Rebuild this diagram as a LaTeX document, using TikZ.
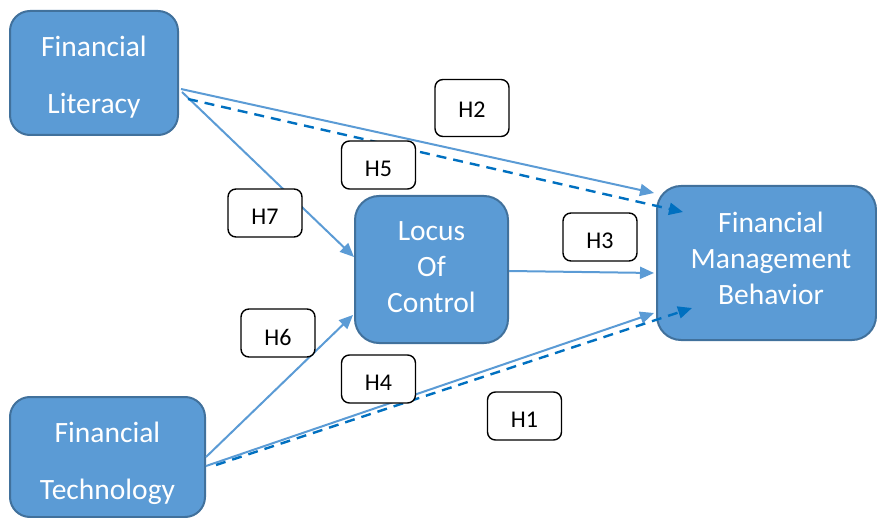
\documentclass[tikz,border=0pt]{standalone}
\usepackage{fontspec}
\setmainfont{Carlito}
\usetikzlibrary{arrows.meta,calc}
\definecolor{boxfill}{HTML}{5B9BD5}
\definecolor{boxline}{HTML}{41719C}
\definecolor{dashblue}{HTML}{0070C0}
% hypothesis text, set a little below the middle of its frame
\newcommand{\hyptext}[2][-4pt]{\raisebox{#1}[\height][\depth]{#2}}
\begin{document}
\begin{tikzpicture}[x=1pt,y=-1pt,
  construct/.style={draw=boxline, line width=2pt, fill=boxfill, rounded corners=20pt, inner sep=0pt},
  caption/.style={text=white, align=center, inner sep=0pt, font=\fontsize{29.5}{36}\selectfont},
  widespaced/.style={font=\fontsize{29.5}{57}\selectfont},
  hyp/.style={draw=black, line width=1.4pt, fill=white, rounded corners=8pt,
    minimum width=74pt, minimum height=48pt, inner sep=0pt,
    font=\fontsize{24}{28}\selectfont},
  link/.style={draw=boxfill, line width=2pt, -{Triangle[length=14pt,width=12pt]}},
  directlink/.style={draw=dashblue, line width=2.4pt, dash pattern=on 10pt off 7pt,
    -{Triangle[length=14pt,width=12pt]}}]
\useasboundingbox (0,0) rectangle (877,518);

% constructs
\node[construct, minimum width=168pt, minimum height=124pt] (fl) at (94,73) {};
\node[construct, minimum width=195pt, minimum height=120pt] (ft) at (107.5,457) {};
\node[construct, minimum width=153pt, minimum height=147pt, rounded corners=24pt] (loc) at (431.5,269.5) {};
\node[construct, minimum width=219pt, minimum height=154pt, rounded corners=24pt] (fmb) at (766.5,263) {};

\node[caption, widespaced] (fltext) at (94,77) {Financial\\Literacy};
\node[caption, widespaced] (fttext) at (107.5,463) {Financial\\Technology};
\node[caption] (loctext) at (431.5,267.5) {Locus\\Of\\Control};
\node[caption] (fmbtext) at (771,258) {Financial\\Management\\Behavior};

% paths
\draw[link] ($(fl.east)+(3,19)$) -- ($(loc.west)+(0,-12.5)$);
\draw[link] ($(fl.east)+(2,16)$) -- ($(fmb.west)+(-2,-70)$);
\draw[directlink] ($(fl.east)+(9,26)$) -- ($(fmb.west)+(27,-51)$);
\draw[link] ($(loc.east)+(0,1.5)$) -- ($(fmb.west)+(-2,10)$);
\draw[link] (ft.east) -- ($(loc.west)+(-1,45.5)$);
\draw[link] ($(ft.east)+(0,9)$) -- ($(fmb.west)+(-2,50)$);
\draw[directlink] ($(ft.east)+(10,8)$) -- ($(fmb.west)+(36,45)$);

% hypothesis labels
\node[hyp, minimum height=57pt] (h2) at (472,108) {\hyptext[-2pt]{H2}};
\node[hyp] (h5) at (378.5,165) {\hyptext{H5}};
\node[hyp] (h7) at (265,213) {\hyptext{H7}};
\node[hyp] (h3) at (600,237) {\hyptext{H3}};
\node[hyp] (h6) at (278,333) {\hyptext{H6}};
\node[hyp] (h4) at (378.5,379) {\hyptext{H4}};
\node[hyp] (h1) at (524.5,416) {\hyptext{H1}};
\end{tikzpicture}
\end{document}
